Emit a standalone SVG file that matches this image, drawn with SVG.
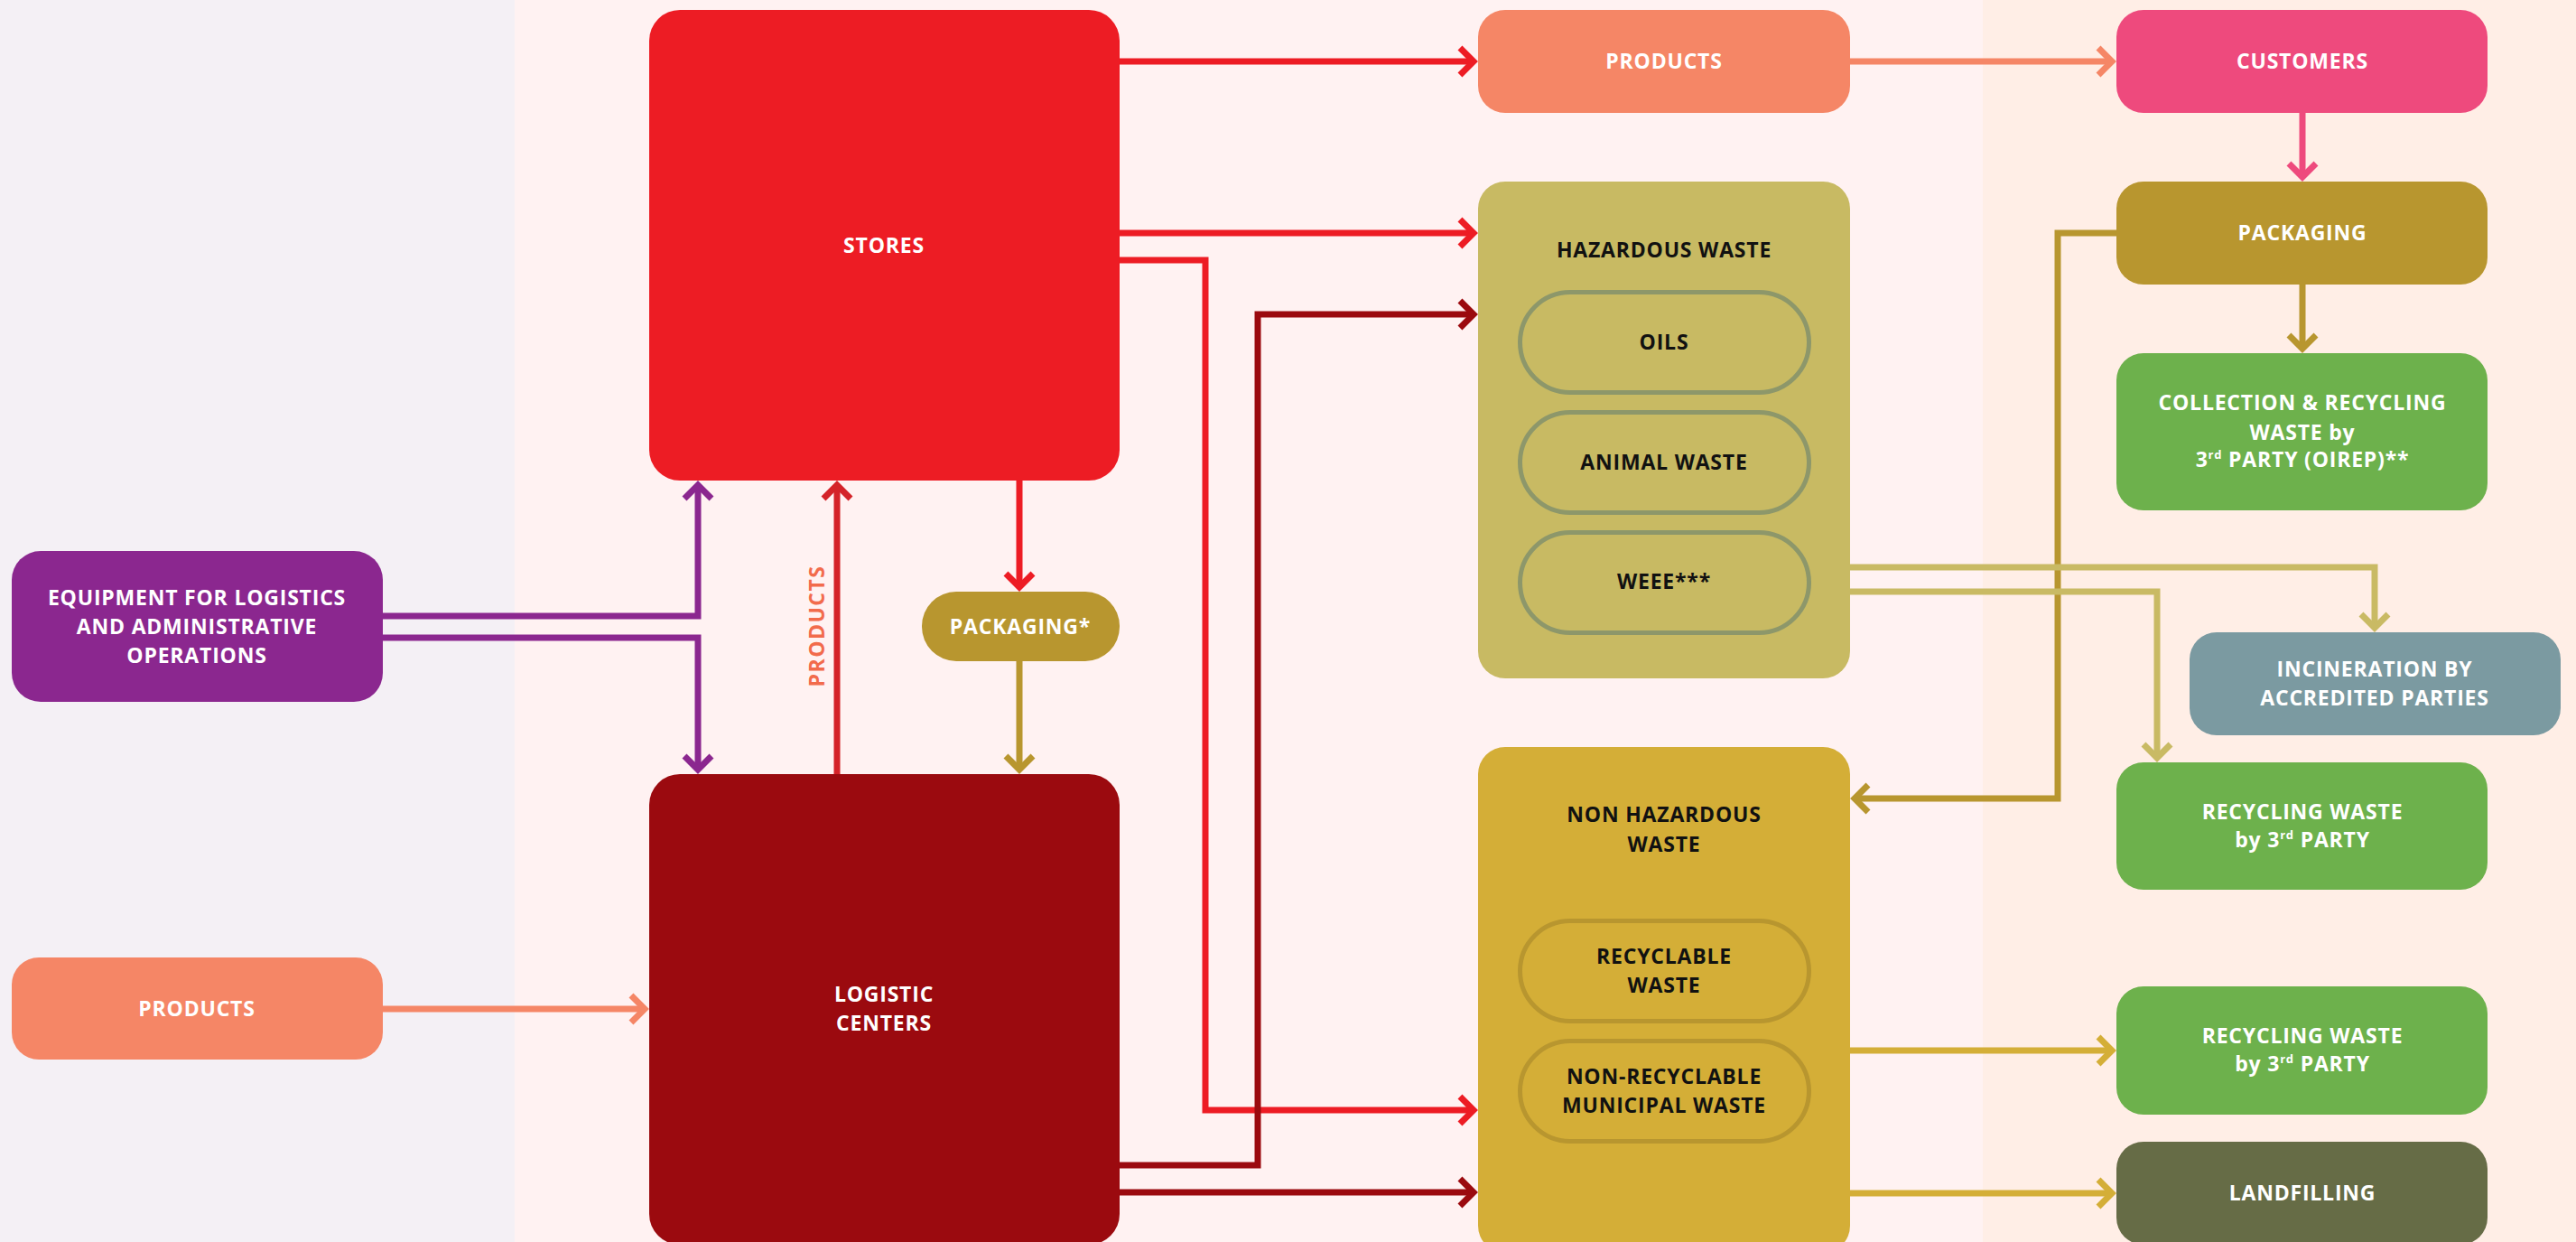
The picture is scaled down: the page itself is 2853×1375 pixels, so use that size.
<svg xmlns="http://www.w3.org/2000/svg" width="2853" height="1375" viewBox="0 0 2853 1375">
<style>
.lbl{font-family:"Open Sans","Liberation Sans",sans-serif;font-weight:700;font-size:23px;letter-spacing:0.8px;text-anchor:middle;fill:#ffffff}
.dk{fill:#111111}
.conn path{fill:none;stroke-width:7;stroke-linejoin:miter;stroke-linecap:butt}
.pill{stroke-width:5}
</style>
<defs>
<marker id="aRed" markerUnits="userSpaceOnUse" orient="auto" overflow="visible" markerWidth="1" markerHeight="1"><path d="M-15,-15 L0,0 L-15,15" fill="none" stroke="#ED1C24" stroke-width="7"/></marker>
<marker id="aDark" markerUnits="userSpaceOnUse" orient="auto" overflow="visible" markerWidth="1" markerHeight="1"><path d="M-15,-15 L0,0 L-15,15" fill="none" stroke="#9B0A0F" stroke-width="7"/></marker>
<marker id="aPur" markerUnits="userSpaceOnUse" orient="auto" overflow="visible" markerWidth="1" markerHeight="1"><path d="M-15,-15 L0,0 L-15,15" fill="none" stroke="#8B278F" stroke-width="7"/></marker>
<marker id="aSal" markerUnits="userSpaceOnUse" orient="auto" overflow="visible" markerWidth="1" markerHeight="1"><path d="M-15,-15 L0,0 L-15,15" fill="none" stroke="#F58666" stroke-width="7"/></marker>
<marker id="aPink" markerUnits="userSpaceOnUse" orient="auto" overflow="visible" markerWidth="1" markerHeight="1"><path d="M-15,-15 L0,0 L-15,15" fill="none" stroke="#EE4A7D" stroke-width="7"/></marker>
<marker id="aOl" markerUnits="userSpaceOnUse" orient="auto" overflow="visible" markerWidth="1" markerHeight="1"><path d="M-15,-15 L0,0 L-15,15" fill="none" stroke="#B8962F" stroke-width="7"/></marker>
<marker id="aKh" markerUnits="userSpaceOnUse" orient="auto" overflow="visible" markerWidth="1" markerHeight="1"><path d="M-15,-15 L0,0 L-15,15" fill="none" stroke="#C9BA64" stroke-width="7"/></marker>
<marker id="aGold" markerUnits="userSpaceOnUse" orient="auto" overflow="visible" markerWidth="1" markerHeight="1"><path d="M-15,-15 L0,0 L-15,15" fill="none" stroke="#D4AE37" stroke-width="7"/></marker>
<marker id="aRed2" markerUnits="userSpaceOnUse" orient="auto" overflow="visible" markerWidth="1" markerHeight="1"><path d="M-15,-15 L0,0 L-15,15" fill="none" stroke="#D42329" stroke-width="7"/></marker>
</defs>

<g id="background">
<rect x="0" y="0" width="570" height="1375" fill="#F4F0F5"/>
<rect x="570" y="0" width="1626" height="1375" fill="#FFF2F2"/>
<rect x="2196" y="0" width="657" height="1375" fill="#FFEEE6"/>
</g>

<g id="stores"><rect x="719" y="11" width="521" height="521" rx="34" fill="#ED1C24"/><text class="lbl" x="979" y="280">STORES</text></g>
<g id="logistic-centers"><rect x="719" y="857" width="521" height="521" rx="34" fill="#9B0A0F"/><text class="lbl" x="979" y="1109">LOGISTIC</text><text class="lbl" x="979" y="1141">CENTERS</text></g>
<g id="equipment"><rect x="13" y="610" width="411" height="167" rx="32" fill="#8B278F"/><text class="lbl" x="218" y="670">EQUIPMENT FOR LOGISTICS</text><text class="lbl" x="218" y="702">AND ADMINISTRATIVE</text><text class="lbl" x="218" y="734">OPERATIONS</text></g>
<g id="products-left"><rect x="13" y="1060" width="411" height="113" rx="30" fill="#F58666"/><text class="lbl" x="218" y="1125">PRODUCTS</text></g>
<g id="packaging-star"><rect x="1021" y="655" width="219" height="77" rx="38" fill="#B8962F"/><text class="lbl" x="1130" y="702">PACKAGING*</text></g>
<g id="products-top"><rect x="1637" y="11" width="412" height="114" rx="30" fill="#F58666"/><text class="lbl" x="1843" y="76">PRODUCTS</text></g>
<g id="customers"><rect x="2344" y="11" width="411" height="114" rx="30" fill="#EE4A7D"/><text class="lbl" x="2550" y="76">CUSTOMERS</text></g>
<g id="hazardous-waste"><rect x="1637" y="201" width="412" height="550" rx="30" fill="#C8BA63"/><text class="lbl dk" x="1843" y="285">HAZARDOUS WASTE</text>
<rect class="pill" x="1683.5" y="323.5" width="320" height="111" rx="55.5" fill="none" stroke="#8D976A"/><text class="lbl dk" x="1843" y="387">OILS</text>
<rect class="pill" x="1683.5" y="456.5" width="320" height="111" rx="55.5" fill="none" stroke="#8D976A"/><text class="lbl dk" x="1843" y="520">ANIMAL WASTE</text>
<rect class="pill" x="1683.5" y="589.5" width="320" height="111" rx="55.5" fill="none" stroke="#8D976A"/><text class="lbl dk" x="1843" y="652">WEEE***</text></g>
<g id="non-hazardous-waste"><rect x="1637" y="827" width="412" height="560" rx="30" fill="#D4AE37"/><text class="lbl dk" x="1843" y="910">NON HAZARDOUS</text><text class="lbl dk" x="1843" y="943">WASTE</text>
<rect class="pill" x="1683.5" y="1019.5" width="320" height="111" rx="55.5" fill="none" stroke="#B8962F"/><text class="lbl dk" x="1843" y="1067">RECYCLABLE</text><text class="lbl dk" x="1843" y="1099">WASTE</text>
<rect class="pill" x="1683.5" y="1152.5" width="320" height="111" rx="55.5" fill="none" stroke="#B8962F"/><text class="lbl dk" x="1843" y="1200">NON-RECYCLABLE</text><text class="lbl dk" x="1843" y="1232">MUNICIPAL WASTE</text></g>
<g id="packaging"><rect x="2344" y="201" width="411" height="114" rx="30" fill="#B8962F"/><text class="lbl" x="2550" y="266">PACKAGING</text></g>
<g id="collection-recycling"><rect x="2344" y="391" width="411" height="174" rx="30" fill="#6DB14C"/><text class="lbl" x="2550" y="454">COLLECTION &amp; RECYCLING</text><text class="lbl" x="2550" y="487">WASTE by</text><text class="lbl" x="2550" y="517">3<tspan font-size="13" dy="-9">rd</tspan><tspan dy="9"> PARTY (OIREP)**</tspan></text></g>
<g id="incineration"><rect x="2425" y="700" width="411" height="114" rx="30" fill="#7B9AA1"/><text class="lbl" x="2630" y="749">INCINERATION BY</text><text class="lbl" x="2630" y="781">ACCREDITED PARTIES</text></g>
<g id="recycling-1"><rect x="2344" y="844" width="411" height="141" rx="30" fill="#6DB14C"/><text class="lbl" x="2550" y="907">RECYCLING WASTE</text><text class="lbl" x="2550" y="938">by 3<tspan font-size="13" dy="-9">rd</tspan><tspan dy="9"> PARTY</tspan></text></g>
<g id="recycling-2"><rect x="2344" y="1092" width="411" height="142" rx="30" fill="#6DB14C"/><text class="lbl" x="2550" y="1155">RECYCLING WASTE</text><text class="lbl" x="2550" y="1186">by 3<tspan font-size="13" dy="-9">rd</tspan><tspan dy="9"> PARTY</tspan></text></g>
<g id="landfilling"><rect x="2344" y="1264" width="411" height="114" rx="30" fill="#666C46"/><text class="lbl" x="2550" y="1329">LANDFILLING</text></g>

<g id="connectors" class="conn">
<path d="M1240,68 H1632" stroke="#ED1C24" marker-end="url(#aRed)"/>
<path d="M1240,258 H1632" stroke="#ED1C24" marker-end="url(#aRed)"/>
<path d="M1240,288 H1335 V1229 H1632" stroke="#ED1C24" marker-end="url(#aRed)"/>
<path d="M1240,1290 H1393 V348 H1632" stroke="#9B0A0F" marker-end="url(#aDark)"/>
<path d="M1240,1320 H1632" stroke="#9B0A0F" marker-end="url(#aDark)"/>
<path d="M2049,68 H2339" stroke="#F58666" marker-end="url(#aSal)"/>
<path d="M2550,125 V196" stroke="#EE4A7D" marker-end="url(#aPink)"/>
<path d="M2550,315 V386" stroke="#B8962F" marker-end="url(#aOl)"/>
<path d="M2344,258 H2279 V884 H2054" stroke="#B8962F" marker-end="url(#aOl)"/>
<path d="M2049,628 H2630 V695" stroke="#C9BA64" marker-end="url(#aKh)"/>
<path d="M2049,655 H2389 V839" stroke="#C9BA64" marker-end="url(#aKh)"/>
<path d="M2049,1163 H2339" stroke="#D4AE37" marker-end="url(#aGold)"/>
<path d="M2049,1321 H2339" stroke="#D4AE37" marker-end="url(#aGold)"/>
<path d="M424,682 H773 V537" stroke="#8B278F" marker-end="url(#aPur)"/>
<path d="M424,706 H773 V852" stroke="#8B278F" marker-end="url(#aPur)"/>
<path d="M927,857 V537" stroke="#D42329" marker-end="url(#aRed2)"/>
<path d="M1129,532 V650" stroke="#ED1C24" marker-end="url(#aRed)"/>
<path d="M1129,732 V852" stroke="#B8962F" marker-end="url(#aOl)"/>
<path d="M424,1117 H714" stroke="#F58666" marker-end="url(#aSal)"/>
<text x="904" y="693" transform="rotate(-90 904 693)" text-anchor="middle" dominant-baseline="central" font-family="Open Sans, Liberation Sans, sans-serif" font-weight="700" font-size="23" letter-spacing="1.5" fill="#F26B4C">PRODUCTS</text>
</g>
</svg>
